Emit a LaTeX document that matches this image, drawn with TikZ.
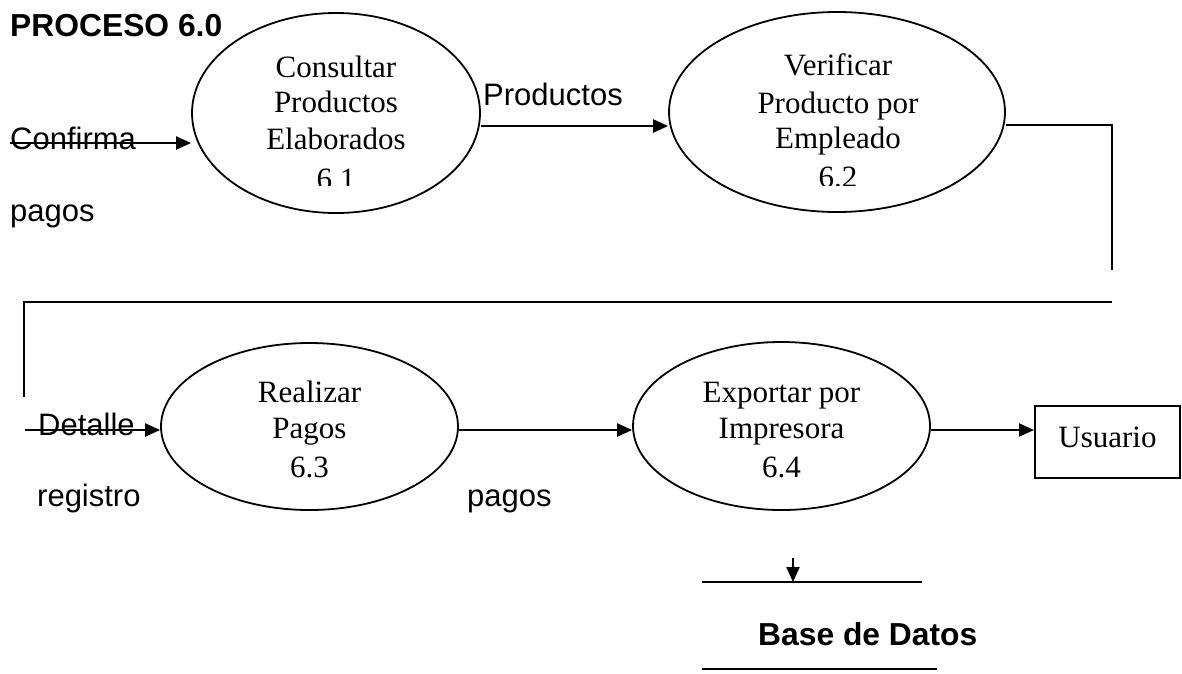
\documentclass[tikz,border=0pt]{standalone}
\usepackage{fontspec}
\setmainfont{Liberation Serif}
\setsansfont{Liberation Sans}
\usetikzlibrary{shapes.geometric,arrows.meta}
\begin{document}
\begin{tikzpicture}[x=1pt,y=-1pt,
  proc/.style={ellipse,draw,line width=1.8pt,inner sep=0},
  conn/.style={line width=2.2pt},
  arr/.style={conn,-{Triangle[length=15pt,width=13pt]}},
  lbl/.style={font=\sffamily\fontsize{31}{36}\selectfont,anchor=base west,inner sep=0},
  ptxt/.style={font=\fontsize{31}{36}\selectfont,anchor=base,inner sep=0},
  ttl/.style={font=\sffamily\bfseries\fontsize{31.8}{36}\selectfont,anchor=base west,inner sep=0}]
\useasboundingbox (0,0) rectangle (1182,673);

% processes
\node[proc,minimum width=288,minimum height=200] (p1) at (336,113) {};
\node[proc,minimum width=336,minimum height=200] (p2) at (837,112) {};
\node[proc,minimum width=297,minimum height=167] (p3) at (309.5,426.5) {};
\node[proc,minimum width=297,minimum height=168] (p4) at (781.5,426) {};
\node[draw,line width=2pt,minimum width=145,minimum height=72,inner sep=0] (u) at (1107.5,442) {};
\node[ptxt] (ut) at (1107.5,447) {Usuario};

% process texts
\begin{scope}
\clip (150,0) rectangle (1010,185);
\node[ptxt] (t1a) at (336,77) {Consultar};
\node[ptxt] (t1b) at (336,112) {Productos};
\node[ptxt] (t1c) at (336,149) {Elaborados};
\node[ptxt] (t1d) at (336,189) {6.1};
\node[ptxt] (t2a) at (838,75) {Verificar};
\node[ptxt] (t2b) at (838,113) {Producto por};
\node[ptxt] (t2c) at (838,148) {Empleado};
\node[ptxt] (t2d) at (838,187) {6.2};
\end{scope}
\node[ptxt] (t3a) at (309.5,402) {Realizar};
\node[ptxt] (t3b) at (309.5,438) {Pagos};
\node[ptxt] (t3c) at (309.5,477) {6.3};
\node[ptxt] (t4a) at (781.5,402) {Exportar por};
\node[ptxt] (t4b) at (781.5,438) {Impresora};
\node[ptxt] (t4c) at (781.5,477) {6.4};

% labels
\node[ttl] (title) at (10,36) {PROCESO 6.0};
\node[lbl] (lprod) at (483,105) {Productos};
\node[lbl] (lconf) at (10,149) {Confirma};
\node[lbl] (lpag1) at (10,221) {pagos};
\node[lbl] (ldet) at (38,435) {Detalle};
\node[lbl] (lreg) at (37,506) {registro};
\node[lbl] (lpag2) at (467,506) {pagos};
\node[ttl] (lbd) at (758,645) {Base de Datos};

% connectors
\coordinate (c0) at (10,143);
\draw[arr] (c0) -- (c0 -| p1.west);
\draw[arr] (p1.east |- 0,126) -- (p2.west |- 0,126);
\coordinate (r1) at (1112,125);
\coordinate (r2) at (1112,270);
\draw[conn] (p2.east |- r1) -- (r1) -- (r2);
\coordinate (h1) at (1112,302);
\coordinate (h2) at (24,302);
\coordinate (h3) at (24,397);
\draw[conn] (h1) -- (h2) -- (h3);
\coordinate (d0) at (25,430);
\draw[arr] (d0) -- (d0 -| p3.west);
\draw[arr] (p3.east |- 0,430) -- (p4.west |- 0,430);
\draw[arr] (p4.east |- 0,430) -- (u.west |- 0,430);

% data store
\coordinate (s1) at (702,582);
\coordinate (s2) at (922,582);
\coordinate (s3) at (702,669);
\coordinate (s4) at (937,669);
\coordinate (sa) at (793,558);
\draw[conn] (s1) -- (s2);
\draw[conn] (s3) -- (s4);
\draw[arr] (sa) -- (sa |- s1);
\end{tikzpicture}
\end{document}
